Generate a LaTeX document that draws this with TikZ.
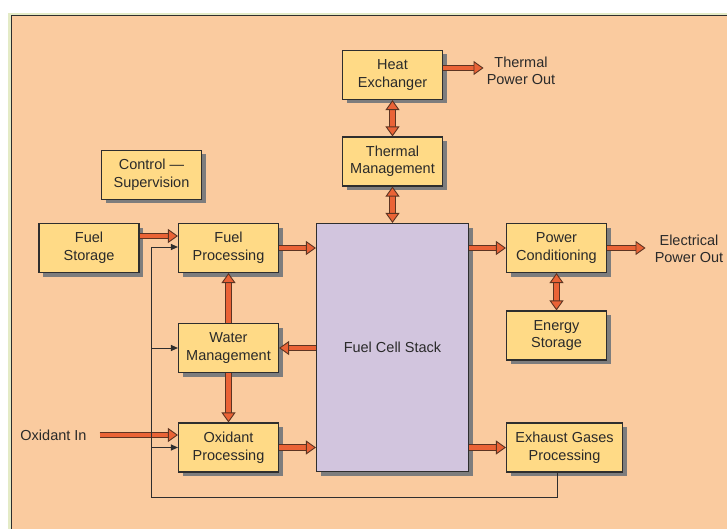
\documentclass[tikz,border=0pt]{standalone}
\usepackage{fontspec}
\setmainfont{Liberation Sans}
\usetikzlibrary{arrows.meta, shadows}
\definecolor{panelbg}{HTML}{FACB9F}
\definecolor{edgegreen}{HTML}{E4EBC6}
\definecolor{boxfill}{HTML}{FFDA86}
\definecolor{stackfill}{HTML}{D2C5DE}
\definecolor{boxline}{HTML}{2E2E2E}
\definecolor{inkgray}{HTML}{2A2A2A}
\definecolor{shadowgray}{HTML}{7D7D7D}
\definecolor{arrowfill}{HTML}{EA6336}
\definecolor{arrowline}{HTML}{5C3422}

\begin{document}
\begin{tikzpicture}[x=1pt, y=-1pt,
  box/.style={draw=boxline, line width=1.1pt, fill=boxfill, text=inkgray, minimum width=100pt, minimum height=49pt, align=center, inner sep=2pt, font=\fontsize{14.5}{17.5}\selectfont, drop shadow={shadow xshift=4pt, shadow yshift=-4pt, fill=shadowgray, opacity=1}},
  stackbox/.style={box, fill=stackfill, minimum width=152pt, minimum height=248pt},
  label/.style={text=inkgray, align=center, inner sep=0pt, font=\fontsize{14.5}{17.5}\selectfont},
  fat/.style={line width=4.4pt, draw=arrowfill, arrows={-Triangle[width=14pt, length=10pt, fill=arrowfill, color=arrowline, line width'=0.9pt]}, preaction={draw=arrowline, line width=6.2pt, arrows=-, shorten >=8pt}},
  fatboth/.style={line width=4.4pt, draw=arrowfill, arrows={Triangle[width=14pt, length=10pt, fill=arrowfill, color=arrowline, line width'=0.9pt]-Triangle[width=14pt, length=10pt, fill=arrowfill, color=arrowline, line width'=0.9pt]}, preaction={draw=arrowline, line width=6.2pt, arrows=-, shorten <=8pt, shorten >=8pt}},
  feed/.style={draw=boxline, line width=1pt, -{Triangle[width=6pt, length=7pt]}}
]

\useasboundingbox (0,0) rectangle (727,529);
\fill[white] (0,0) rectangle (727,529);
\fill[edgegreen] (8,13) rectangle (727,529);
\fill[panelbg] (11,15) rectangle (727,529);
\draw[boxline, line width=1.2pt] (11.6,529) -- (11.6,15.6) -- (727,15.6);

\node[box] (hx) at (392.5,75) {Heat\\Exchanger};
\node[box] (tmgmt) at (392.5,161.5) {Thermal\\Management};
\node[box] (ctrl) at (151.5,175) {Control ---\\Supervision};
\node[box] (fstore) at (89,248) {Fuel\\Storage};
\node[box] (fproc) at (228.5,248) {Fuel\\Processing};
\node[box] (wmgmt) at (228.5,348) {Water\\Management};
\node[box] (oxproc) at (228.5,447.5) {Oxidant\\Processing};
\node[stackbox] (stack) at (392.5,347.5) {Fuel Cell Stack};
\node[box] (pcond) at (556.5,248) {Power\\Conditioning};
\node[box] (estore) at (556.5,335.5) {Energy\\Storage};
\node[box, minimum width=116pt] (exhaust) at (564.5,447.5) {Exhaust Gases\\Processing};

\node[label] (thermout) at (521,71) {Thermal\\Power Out};
\node[label] (elecout) at (689,249) {Electrical\\Power Out};
\node[label] (oxin) at (53.5,435) {Oxidant In};
\coordinate (loop) at (151,497);

\draw[fat] ([yshift=7pt]hx.east) -- ([xshift=-3pt,yshift=7pt]hx.east -| thermout.west);
\draw[fatboth] (hx) -- (tmgmt);
\draw[fatboth] (tmgmt) -- (stack);
\draw[fat] ([yshift=12pt]fstore.east) -- ([yshift=12pt]fproc.west);
\draw[fat] (fproc.east) -- (fproc.east -| stack.west);
\draw[fat] (wmgmt.east -| stack.west) -- (wmgmt.east);
\draw[fat] (wmgmt) -- (fproc);
\draw[fat] (wmgmt) -- (oxproc);
\draw[fat] ([xshift=13pt]oxin.east) -- ([yshift=12.5pt]oxproc.west);
\draw[fat] (oxproc.east) -- (oxproc.east -| stack.west);
\draw[fat] (pcond.west -| stack.east) -- (pcond.west);
\draw[fat] (exhaust.west -| stack.east) -- (exhaust.west);
\draw[fat] (pcond.east) -- ([xshift=-9pt]pcond.east -| elecout.west);
\draw[fatboth] (pcond) -- (estore);

\draw[feed] ([xshift=-7.5pt]exhaust.south) |- (loop) |- ([yshift=1pt]fproc.west);
\draw[feed] (loop |- wmgmt.west) -- (wmgmt.west);
\draw[feed] (loop |- oxproc.west) -- (oxproc.west);

\end{tikzpicture}
\end{document}
